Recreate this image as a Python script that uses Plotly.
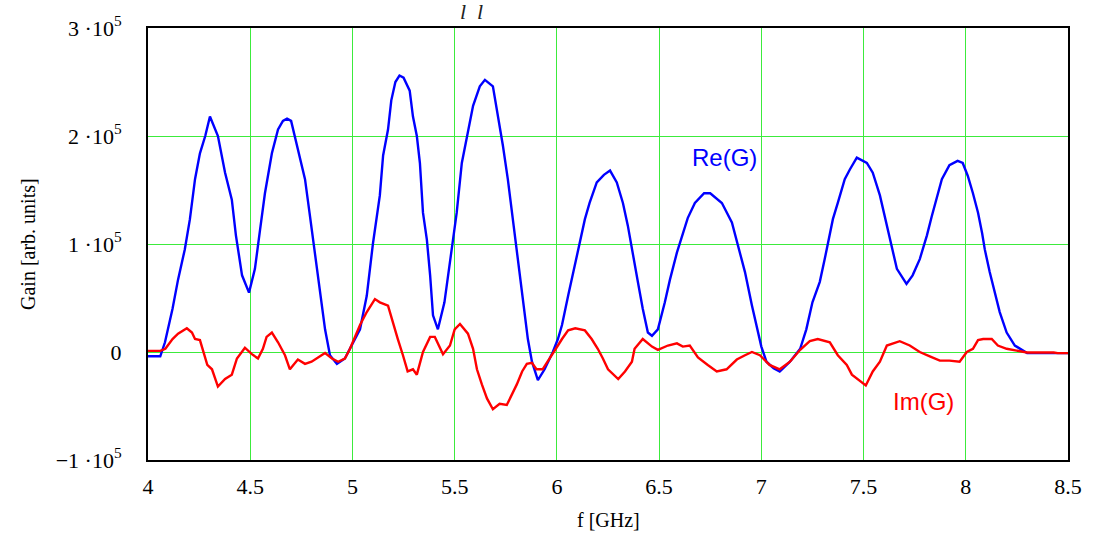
import plotly.graph_objects as go

# Re(G): frequency [GHz], gain [arb. units]
re_f = [4.0, 4.03, 4.06, 4.083, 4.12, 4.147, 4.18, 4.205, 4.23, 4.254, 4.28, 4.303, 4.342, 4.377, 4.41,
        4.43, 4.46, 4.494, 4.523, 4.548, 4.572, 4.606, 4.636, 4.66, 4.68, 4.70, 4.733, 4.768, 4.79, 4.817,
        4.84, 4.866, 4.89, 4.924, 4.963, 4.988, 5.037, 5.07, 5.1, 5.134, 5.15, 5.174, 5.19, 5.21, 5.23,
        5.25, 5.28, 5.296, 5.315, 5.33, 5.345, 5.364, 5.38, 5.394, 5.418, 5.45, 5.477, 5.49, 5.51, 5.535,
        5.56, 5.59, 5.623, 5.648, 5.687, 5.711, 5.736, 5.76, 5.785, 5.81, 5.834, 5.858, 5.878, 5.907, 5.94,
        5.98, 6.005, 6.025, 6.055, 6.09, 6.11, 6.137, 6.16, 6.195, 6.23, 6.26, 6.293, 6.323, 6.347, 6.372,
        6.396, 6.42, 6.445, 6.465, 6.494, 6.528, 6.553, 6.587, 6.616, 6.64, 6.675, 6.72, 6.75, 6.807, 6.856,
        6.885, 6.92, 6.954, 6.983, 7.0, 7.025, 7.06, 7.09, 7.14, 7.19, 7.22, 7.25, 7.286, 7.31, 7.325,
        7.35, 7.374, 7.408, 7.433, 7.467, 7.516, 7.545, 7.58, 7.614, 7.64, 7.663, 7.71, 7.74, 7.775, 7.81,
        7.834, 7.86, 7.883, 7.92, 7.96, 7.985, 8.01, 8.035, 8.06, 8.08, 8.093, 8.117, 8.142, 8.166, 8.2,
        8.24, 8.3, 8.4, 8.5]
re_g = [-4000, -4000, -4000, 9000, 40000, 67000, 95000, 123000, 160000, 184000, 200000, 218000, 200000,
        166000, 141000, 108000, 71000, 55000, 77000, 113000, 147000, 184000, 206000, 214000, 216000,
        214000, 187000, 160000, 129000, 92000, 58000, 21000, -3000, -11000, -6000, 3000, 21000, 52000,
        100000, 145000, 182000, 206000, 233000, 250000, 256000, 254000, 242000, 218000, 200000, 175000,
        129000, 104000, 71000, 34000, 21000, 46000, 83000, 100000, 129000, 175000, 200000, 228000, 246000,
        252000, 246000, 221000, 191000, 160000, 123000, 86000, 52000, 12000, -9000, -26000, -16000, 0,
        12000, 25000, 52000, 83000, 101000, 123000, 138000, 157000, 164000, 168000, 157000, 138000, 117000,
        92000, 65000, 40000, 18000, 15000, 21000, 46000, 67000, 92000, 110000, 124000, 138000, 147000,
        147000, 138000, 120000, 99000, 74000, 43000, 18000, 5000, -9000, -15000, -18000, -9000, 3000,
        21000, 46000, 65000, 86000, 101000, 123000, 138000, 160000, 169000, 180000, 175000, 166000, 145000,
        117000, 95000, 77000, 63000, 71000, 86000, 108000, 126000, 145000, 160000, 173000, 177000, 175000,
        163000, 147000, 129000, 110000, 95000, 74000, 55000, 37000, 18000, 6000, -1000, -1000, -1000]

# Im(G)
im_f = [4.0, 4.06, 4.085, 4.12, 4.147, 4.19, 4.215, 4.23, 4.254, 4.27, 4.29, 4.313, 4.328, 4.342, 4.377,
        4.41, 4.435, 4.474, 4.508, 4.538, 4.562, 4.58, 4.606, 4.636, 4.67, 4.694, 4.733, 4.768, 4.8, 4.83,
        4.866, 4.9, 4.93, 4.963, 4.988, 5.037, 5.07, 5.11, 5.134, 5.174, 5.2, 5.222, 5.247, 5.27, 5.296,
        5.315, 5.345, 5.38, 5.403, 5.428, 5.443, 5.477, 5.5, 5.526, 5.565, 5.59, 5.609, 5.633, 5.658, 5.687,
        5.72, 5.755, 5.78, 5.804, 5.83, 5.853, 5.878, 5.9, 5.93, 5.966, 6.005, 6.025, 6.055, 6.09, 6.137,
        6.17, 6.2, 6.225, 6.25, 6.3, 6.333, 6.367, 6.38, 6.42, 6.465, 6.494, 6.543, 6.587, 6.616, 6.65,
        6.69, 6.738, 6.782, 6.83, 6.88, 6.92, 6.954, 6.993, 7.04, 7.09, 7.14, 7.19, 7.237, 7.276, 7.335,
        7.374, 7.418, 7.443, 7.472, 7.511, 7.545, 7.58, 7.614, 7.677, 7.726, 7.775, 7.824, 7.873, 7.92,
        7.97, 8.005, 8.035, 8.06, 8.085, 8.127, 8.157, 8.2, 8.25, 8.3, 8.43, 8.45, 8.5]
im_g = [1000, 1000, 3000, 12000, 17000, 22000, 18000, 12000, 11000, 0, -12000, -16000, -25000, -32000,
        -25000, -21000, -6000, 4000, -2000, -6000, 3000, 14000, 18000, 9000, -3000, -16000, -7000, -11000,
        -9000, -5000, -1000, -6000, -9000, -6000, 3000, 25000, 37000, 49000, 46000, 43000, 25000, 12000,
        -3000, -18000, -16000, -21000, 0, 14000, 14000, 3000, -2000, 6000, 21000, 26000, 17000, 3000,
        -16000, -30000, -43000, -53000, -48000, -49000, -40000, -30000, -18000, -11000, -10000, -16000,
        -16000, -6000, 6000, 12000, 20000, 22000, 20000, 12000, 3000, -6000, -16000, -25000, -18000,
        -9000, 3000, 12000, 5000, 2000, 6000, 8000, 5000, 6000, -5000, -12000, -18000, -16000, -7000,
        -3000, 0, -3000, -12000, -16000, -9000, 2000, 10000, 12000, 9000, -3000, -12000, -21000, -25000,
        -31000, -18000, -9000, 6000, 10000, 6000, 0, -4000, -8000, -8000, -9000, 0, 3000, 11000, 12000,
        12000, 6000, 3000, 1000, -500, -500, -1000, -1000]

x_ticks = [4, 4.5, 5, 5.5, 6, 6.5, 7, 7.5, 8, 8.5]
x_tick_text = ["4", "4.5", "5", "5.5", "6", "6.5", "7", "7.5", "8", "8.5"]
y_ticks = [-100000, 0, 100000, 200000, 300000]
y_tick_text = ["\u22121 \u00b710<sup>5</sup>", "0", "1 \u00b710<sup>5</sup>",
               "2 \u00b710<sup>5</sup>", "3 \u00b710<sup>5</sup>"]

GRID = "rgb(60,235,60)"
serif = "Liberation Serif, Times New Roman, serif"
sans = "Liberation Sans, Arial, sans-serif"

fig = go.Figure()
fig.add_trace(go.Scatter(x=re_f, y=re_g, mode="lines", name="Re(G)",
                         line=dict(color="#0000ff", width=2.4)))
fig.add_trace(go.Scatter(x=im_f, y=im_g, mode="lines", name="Im(G)",
                         line=dict(color="#ff0000", width=2.4)))

fig.add_annotation(x=6.82, y=1.8e5, text="Re(G)", showarrow=False,
                   font=dict(family=sans, size=24, color="#0000ff"))
fig.add_annotation(x=7.795, y=-0.46e5, text="Im(G)", showarrow=False,
                   font=dict(family=sans, size=24, color="#ff0000"))
# remnant of a title above the chart
fig.add_annotation(xref="x", yref="paper", x=5.58, y=1, yanchor="bottom", yshift=2,
                   text="<i>l  l</i>", showarrow=False,
                   font=dict(family=serif, size=22, color="#222222"))

# axis titles
fig.add_annotation(xref="paper", yref="paper", x=0, y=0.5, xshift=-120,
                   xanchor="center", yanchor="middle",
                   text="Gain [arb. units]", textangle=-90, showarrow=False,
                   font=dict(family=serif, size=20, color="black"))
fig.add_annotation(xref="paper", yref="paper", x=0.5, y=0, yshift=-60,
                   xanchor="center", yanchor="middle",
                   text="f [GHz]", showarrow=False,
                   font=dict(family=serif, size=20, color="black"))

fig.update_layout(
    width=1102, height=535,
    margin=dict(l=148, r=34, t=26, b=75),
    paper_bgcolor="white", plot_bgcolor="white",
    showlegend=False,
    font=dict(family=serif, size=22, color="black"),
    xaxis=dict(range=[4, 8.5], tickvals=x_ticks, ticktext=x_tick_text,
               showgrid=True, gridcolor=GRID, gridwidth=1, zeroline=False,
               showline=True, linecolor="black", linewidth=2, mirror=True,
               ticks="", ticklabelstandoff=6, tickfont=dict(family=serif, size=22)),
    yaxis=dict(range=[-100000, 300000], tickvals=y_ticks, ticktext=y_tick_text,
               showgrid=True, gridcolor=GRID, gridwidth=1, zeroline=False,
               showline=True, linecolor="black", linewidth=2, mirror=True,
               ticks="", ticklabelstandoff=20, tickfont=dict(family=serif, size=22)),
)

fig.write_html("out.html")
